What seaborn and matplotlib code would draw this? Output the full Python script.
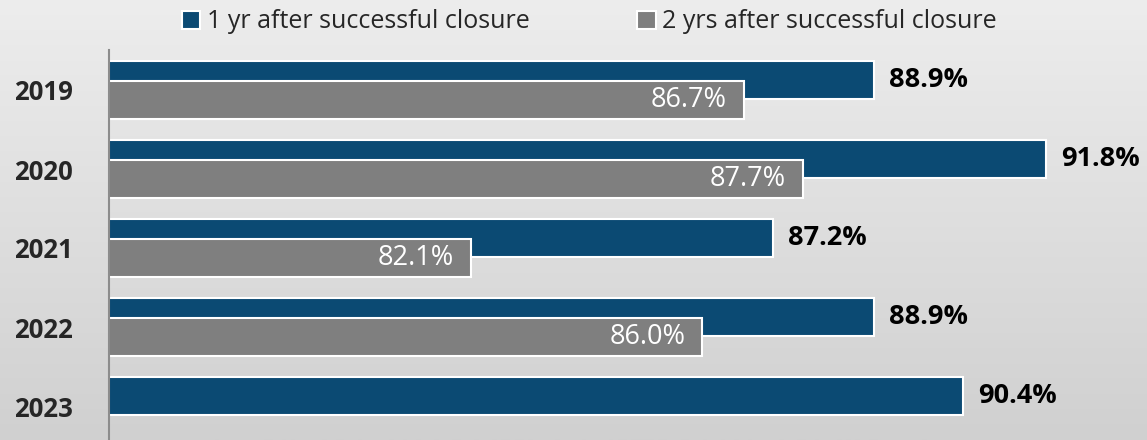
import matplotlib
matplotlib.use("Agg")
import numpy as np
import pandas as pd
import matplotlib.pyplot as plt
import matplotlib.patches as mpatches
from matplotlib.colors import LinearSegmentedColormap
import seaborn as sns

# --- data -------------------------------------------------------------------
years = ["2019", "2020", "2021", "2022", "2023"]
one_year = [88.9, 91.8, 87.2, 88.9, 90.4]
two_years = [86.7, 87.7, 82.1, 86.0, None]   # no 2-yr figure yet for 2023
series_names = ["1 yr after successful closure", "2 yrs after successful closure"]
colors = ["#0B4A73", "#7F7F7F"]

rows = []
for yr, a, b in zip(years, one_year, two_years):
    rows.append((yr, series_names[0], a))
    if b is not None:
        rows.append((yr, series_names[1], b))
df = pd.DataFrame(rows, columns=["year", "series", "rate"])

# --- style ------------------------------------------------------------------
sns.set_style("white")
plt.rcParams["font.family"] = ["Open Sans", "DejaVu Sans"]

fig = plt.figure(figsize=(11.47, 4.40), dpi=100)

# light grey vertical gradient behind everything
bg = fig.add_axes([0, 0, 1, 1], zorder=-10)
grad = np.linspace(0, 1, 256).reshape(-1, 1)
bg.imshow(grad, aspect="auto", extent=[0, 1, 0, 1],
          cmap=LinearSegmentedColormap.from_list("bg", ["#EDEDED", "#D0D0D0"]))
bg.axis("off")

ax = fig.add_axes([109 / 1147, -5.5 / 440, 1038 / 1147, 395 / 440])
ax.patch.set_alpha(0)

sns.barplot(
    data=df, x="rate", y="year", hue="series",
    order=years, hue_order=series_names, palette=colors, saturation=1,
    orient="h", width=0.5, errorbar=None,
    edgecolor="white", linewidth=1.5, legend=False, ax=ax,
)

# overlapping bars (Excel style): keep centres, make each bar taller
for bar in ax.patches:
    cy = bar.get_y() + bar.get_height() / 2
    bar.set_height(0.49)
    bar.set_y(cy - 0.245)

blue_c, gray_c = ax.containers[0], ax.containers[1]
ax.bar_label(blue_c, fmt="%.1f%%", padding=11, fontsize=19.5,
             fontweight="bold", color="black")
for t in ax.bar_label(gray_c, fmt="%.1f%%", padding=-12, fontsize=19.5,
                      color="white"):
    t.set_ha("right")

ax.set_xlim(76, 76 + 1038 / 59.3)
ax.set_ylim(4.5, -0.5)
ax.set_xlabel("")
ax.set_ylabel("")
ax.set_xticks([])
for side in ["top", "right", "bottom"]:
    ax.spines[side].set_visible(False)
ax.spines["left"].set_color("#8C8C8C")
ax.spines["left"].set_linewidth(1.5)
ax.tick_params(axis="y", length=0, pad=26, labelsize=18.5)
for lbl in ax.get_yticklabels():
    lbl.set_fontweight("bold")

handles = [mpatches.Patch(facecolor=c, edgecolor="white", linewidth=1.5) for c in colors]
fig.legend(
    handles, series_names, loc="center", bbox_to_anchor=(589 / 1147, 1 - 22 / 440),
    ncol=2, frameon=False, fontsize=18, handlelength=0.75, handleheight=0.75,
    handletextpad=0.25, columnspacing=4.3,
)

fig.savefig("out.png", dpi=100)
